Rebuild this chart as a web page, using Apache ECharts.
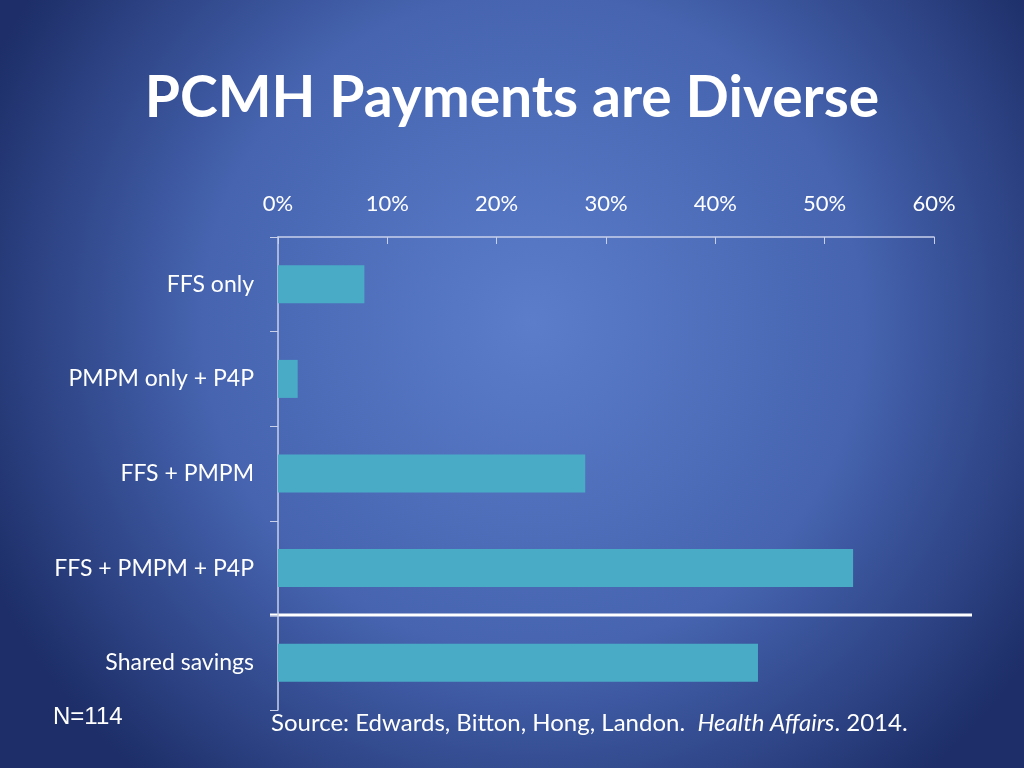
<!DOCTYPE html>
<html>
<head>
<meta charset="utf-8">
<script src="https://cdn.jsdelivr.net/npm/echarts@6/dist/echarts.min.js"></script>
<style>
  html, body { margin: 0; padding: 0; }
  #chart { width: 1024px; height: 768px; }
</style>
</head>
<body>
<div id="chart"></div>
<script>
// payment model categories (top to bottom)
const categories = ['FFS only', 'PMPM only + P4P', 'FFS + PMPM', 'FFS + PMPM + P4P', 'Shared savings']
// share of practices, percent (N=114)
const shares = [7.9, 1.8, 28.1, 52.6, 43.9]
const tickLabels = ['0%', '10%', '20%', '30%', '40%', '50%', '60%']

const axisColor = '#c9d0ea'
const myChart = echarts.init(document.getElementById('chart'))
myChart.setOption({
  backgroundColor: {
    type: 'radial', x: 0.52, y: 0.42, r: 0.78,
    colorStops: [
      { offset: 0, color: '#5b7dca' },
      { offset: 0.55, color: '#4664b0' },
      { offset: 1, color: '#1d2e68' }
    ]
  },
  title: {
    text: 'PCMH Payments are Diverse',
    left: 'center', top: 65,
    textStyle: { color: '#fff', fontFamily: 'Lato', fontWeight: 'bold', fontSize: 57 }
  },
  grid: { left: 278, right: 90, top: 237, bottom: 58 },
  xAxis: {
    type: 'value', position: 'top', min: 0, max: 60, interval: 10,
    axisLine: { show: true, lineStyle: { color: axisColor, width: 1.5 } },
    axisTick: { show: true, length: 7, inside: true, lineStyle: { color: axisColor } },
    splitLine: { show: false },
    axisLabel: {
      color: '#fff', fontFamily: 'Lato', fontSize: 22, margin: 22,
      formatter: v => tickLabels[v / 10]
    }
  },
  yAxis: {
    type: 'category', data: categories, inverse: true,
    axisLine: { show: true, lineStyle: { color: axisColor, width: 1.5 } },
    axisTick: { show: true, length: 8, lineStyle: { color: axisColor } },
    axisLabel: { color: '#fff', fontFamily: 'Lato', fontSize: 23, margin: 24 }
  },
  series: [{
    type: 'bar', data: shares, barWidth: 38,
    itemStyle: { color: '#4aabc7' }
  }],
  graphic: [
    { type: 'line', shape: { x1: 270, y1: 615, x2: 972, y2: 615 },
      style: { stroke: '#ffffff', lineWidth: 3 } },
    { type: 'text', left: 53, top: 705,
      style: { text: 'N=114', fill: '#fff', font: '24px "Liberation Sans"' } },
    { type: 'text', left: 271, top: 711,
      style: {
        text: 'Source: Edwards, Bitton, Hong, Landon.  {i|Health Affairs}. 2014.',
        fill: '#fff', font: '24px Lato',
        rich: { i: { fontStyle: 'italic', fontFamily: 'Lato', fontSize: 24, fill: '#fff' } }
      } }
  ]
})
</script>
</body>
</html>
